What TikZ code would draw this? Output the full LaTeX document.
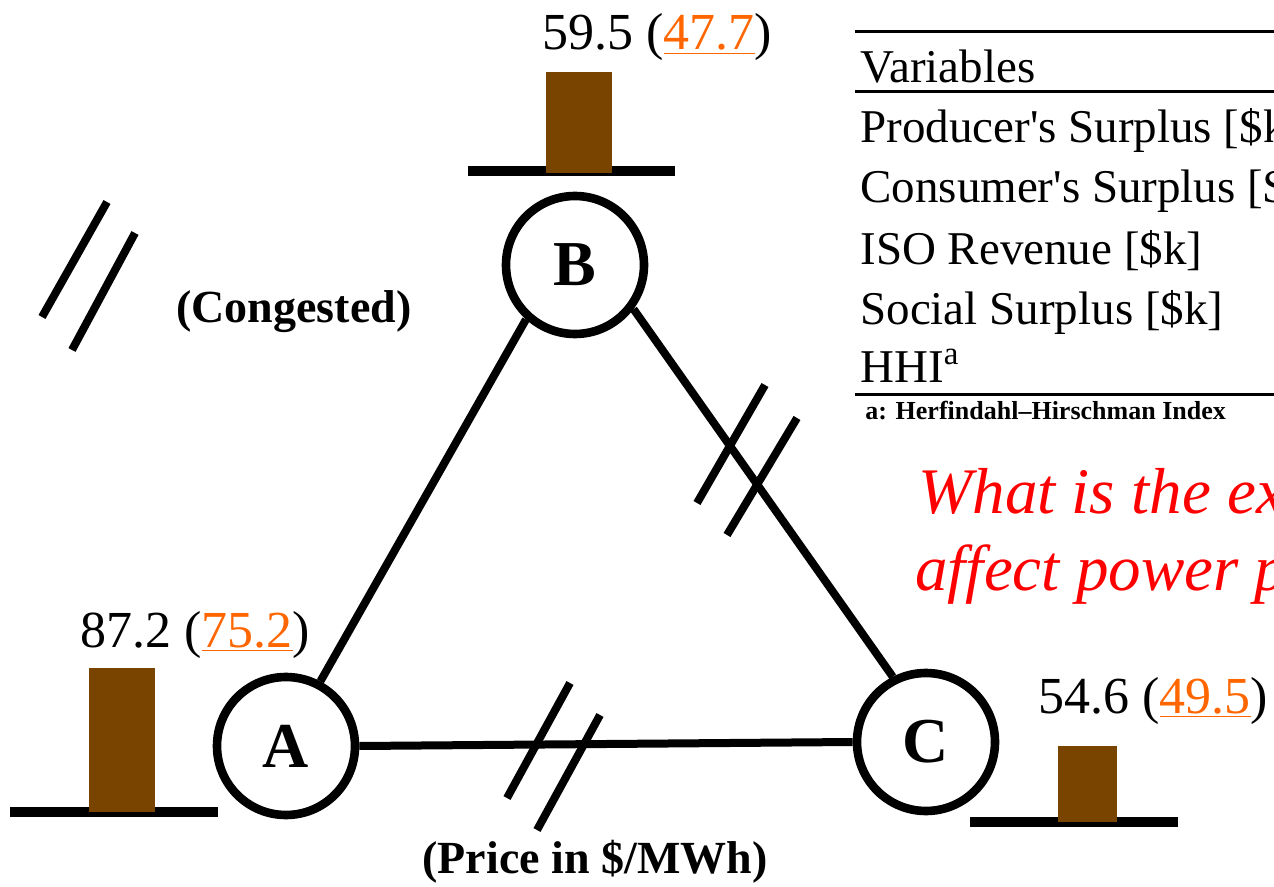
\documentclass[tikz,border=0pt]{standalone}
\usepackage{fontspec}
\setmainfont{Liberation Serif}
\usetikzlibrary{positioning}
\definecolor{genbrown}{RGB}{121,68,0}
\definecolor{lmp}{RGB}{255,102,0}
\definecolor{question}{RGB}{255,0,0}
\newcommand{\lmpprice}[1]{\textcolor{lmp}{\underline{#1}}}

\begin{document}
\begin{tikzpicture}[x=0.5pt,y=-0.5pt,
  bus/.style={circle,draw,line width=4.3pt,minimum size=69pt,inner sep=0pt,
    font=\fontsize{32}{32}\selectfont\bfseries},
  line/.style={line width=4pt},
  cut/.style={line width=4pt},
  ground/.style={line width=4.8pt},
  genbar/.style={fill=genbrown,draw=none,inner sep=0pt,anchor=south},
  price/.style={anchor=base west,inner sep=0pt,font=\fontsize{26}{26}\selectfont},
  remark/.style={anchor=base,inner sep=0pt,font=\fontsize{23}{23}\selectfont\bfseries},
  row/.style={anchor=base west,inner sep=0pt,font=\fontsize{23.5}{24}\selectfont},
  rule/.style={line width=1.5pt}]
  \useasboundingbox (0,0) rectangle (1274,887);
  \clip (0,0) rectangle (1274,887);

  % buses
  \node[bus] (A) at (286,746) {A};
  \node[bus] (B) at (575,265) {B};
  \node[bus] (C) at (926,742) {C};

  % lines
  \draw[line] (A.62) -- (B.228);
  \draw[line] (B.-37) -- (C.117);
  \draw[line] (A.east) -- (C.west);

  % congested marks
  \draw[cut] (765,385) -- (697,503) (797,418) -- (727,535);
  \draw[cut] (570,683) -- (507,798) (600,715) -- (537,830);
  \draw[cut] (107,202) -- (42,317) (135,233) -- (72,350);
  \node[remark] (cong) at (294,323) {(Congested)};
  \node[remark] (unit) at (595,873) {(Price in \$/MWh)};

  % generators and prices
  \draw[ground] (468,171) -- (675,171);
  \node[genbar,minimum width=33pt,minimum height=50.5pt] (gB) at (579,173) {};
  \node[price] (pB) at (542,50) {59.5 (\lmpprice{47.7})};
  \draw[ground] (10,812) -- (218,812);
  \node[genbar,minimum width=33pt,minimum height=72pt] (gA) at (122,812) {};
  \node[price] (pA) at (80,647) {87.2 (\lmpprice{75.2})};
  \draw[ground] (970,822) -- (1178,822);
  \node[genbar,minimum width=29.5pt,minimum height=38pt] (gC) at (1087.5,822) {};
  \node[price] (pC) at (1038,713) {54.6 (\lmpprice{49.5})};

  % table
  \draw[rule] (855,32) -- (1300,32);
  \node[row] (hdr) at (860,83) {Variables};
  \draw[rule] (855,92) -- (1300,92);
  \node[row] (r1) at (860,143) {Producer\textquotesingle s Surplus [\$k]};
  \node[row] (r2) at (860,203) {Consumer\textquotesingle s Surplus [\$k]};
  \node[row] (r3) at (860,265) {ISO Revenue [\$k]};
  \node[row] (r4) at (860,325) {Social Surplus [\$k]};
  \node[row] (r5) at (860,383) {HHI\textsuperscript{a}};
  \draw[rule] (855,395) -- (1300,395);
  \node[anchor=base west,inner sep=0pt,font=\fontsize{13}{13}\selectfont\bfseries]
    (fn) at (865,420) {a: Herfindahl--Hirschman Index};

  % question
  \node[anchor=base west,inner sep=0pt,text=question,font=\fontsize{32.5}{33}\selectfont\itshape]
    (q1) at (918,513) {What is the ex};
  \node[anchor=base west,inner sep=0pt,text=question,font=\fontsize{32.5}{33}\selectfont\itshape]
    (q2) at (915,590) {affect power p};
\end{tikzpicture}
\end{document}
